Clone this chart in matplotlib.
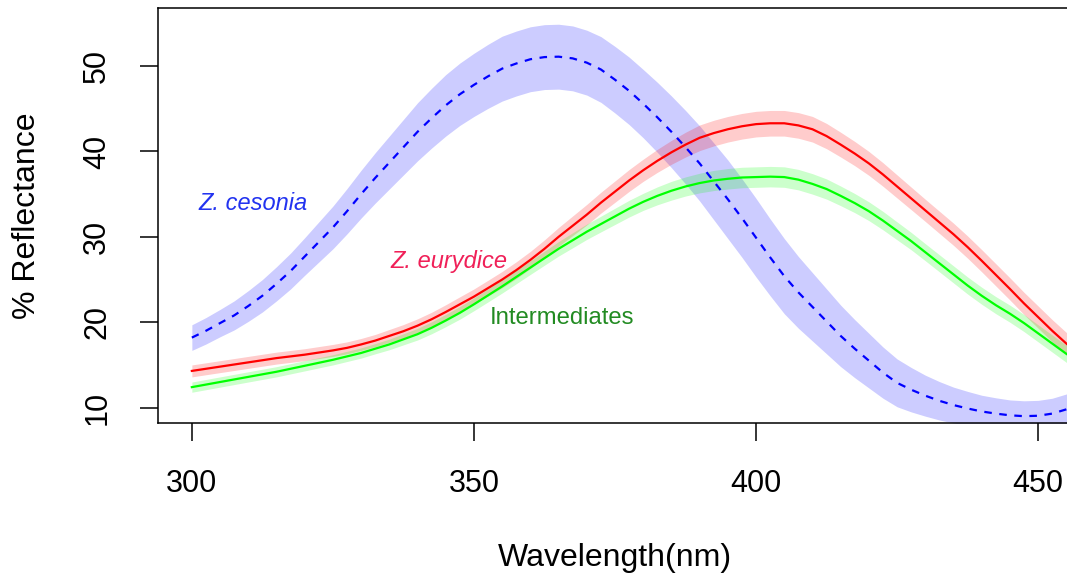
import matplotlib
matplotlib.use("Agg")
import matplotlib.pyplot as plt
import numpy as np

plt.rcParams["font.family"] = ["Liberation Sans", "DejaVu Sans"]

# Wavelength grid (nm), 2.5 nm steps
wavelength = [300, 302.5, 305, 307.5, 310, 312.5, 315, 317.5, 320, 322.5, 325,
              327.5, 330, 332.5, 335, 337.5, 340, 342.5, 345, 347.5, 350,
              352.5, 355, 357.5, 360, 362.5, 365, 367.5, 370, 372.5, 375,
              377.5, 380, 382.5, 385, 387.5, 390, 392.5, 395, 397.5, 400,
              402.5, 405, 407.5, 410, 412.5, 415, 417.5, 420, 422.5, 425,
              427.5, 430, 432.5, 435, 437.5, 440, 442.5, 445, 447.5, 450,
              452.5, 455, 457.5, 460]

# mean % reflectance and half-width of the shaded band
cesonia = [18.2, 19.0, 19.9, 20.8, 21.9, 23.1, 24.5, 26.0, 27.7, 29.4, 31.1,
           33.0, 35.0, 36.9, 38.7, 40.5, 42.3, 43.9, 45.4, 46.7, 47.8,
           48.8, 49.7, 50.3, 50.8, 51.05, 51.1, 50.9, 50.4, 49.6, 48.4,
           47.1, 45.6, 44.0, 42.3, 40.5, 38.6, 36.5, 34.4, 32.2, 29.9,
           27.6, 25.4, 23.5, 21.8, 20.1, 18.4, 16.9, 15.5, 14.1, 12.9,
           12.1, 11.4, 10.8, 10.3, 9.9, 9.55, 9.3, 9.1, 9.0, 9.05,
           9.3, 9.8, 10.4, 11.0]
cesonia_se = [1.5, 1.55, 1.6, 1.7, 1.8, 1.9, 2.0, 2.1, 2.2, 2.35, 2.5,
              2.65, 2.8, 2.95, 3.1, 3.25, 3.4, 3.5, 3.6, 3.65, 3.7,
              3.75, 3.8, 3.8, 3.8, 3.8, 3.8, 3.8, 3.8, 3.85, 3.9,
              3.95, 4.0, 4.1, 4.2, 4.3, 4.4, 4.5, 4.6, 4.6, 4.6,
              4.5, 4.4, 4.2, 4.0, 3.8, 3.6, 3.4, 3.2, 3.0, 2.8,
              2.6, 2.4, 2.25, 2.1, 2.0, 1.9, 1.85, 1.8, 1.8, 1.8,
              1.8, 1.8, 1.85, 1.9]

eurydice = [14.3, 14.55, 14.8, 15.05, 15.3, 15.55, 15.8, 16.0, 16.2, 16.45,
            16.7, 17.0, 17.4, 17.85, 18.4, 18.95, 19.6, 20.35, 21.2, 22.1,
            23.0, 24.0, 25.0, 26.1, 27.3, 28.6, 30.0, 31.3, 32.6, 34.0,
            35.3, 36.6, 37.8, 38.9, 39.9, 40.8, 41.6, 42.15, 42.6, 42.95,
            43.2, 43.3, 43.3, 43.05, 42.6, 41.8, 40.8, 39.75, 38.6, 37.3,
            35.9, 34.5, 33.1, 31.7, 30.3, 28.8, 27.2, 25.55, 23.9, 22.2,
            20.6, 19.0, 17.5, 16.1, 14.8]
eurydice_se = [0.7, 0.7, 0.7, 0.7, 0.7, 0.7, 0.7, 0.7, 0.7, 0.7, 0.7, 0.7,
               0.7, 0.72, 0.75, 0.78, 0.8, 0.82, 0.85, 0.88, 0.9, 0.92, 0.95,
               0.98, 1.0, 1.05, 1.1, 1.15, 1.2, 1.22, 1.25, 1.28, 1.3, 1.35,
               1.4, 1.45, 1.5, 1.5, 1.5, 1.5, 1.5, 1.5, 1.5, 1.5, 1.5, 1.48,
               1.45, 1.42, 1.4, 1.38, 1.35, 1.32, 1.3, 1.3, 1.3, 1.3, 1.3,
               1.3, 1.3, 1.3, 1.3, 1.3, 1.3, 1.3, 1.3]

intermediates = [12.4, 12.7, 13.0, 13.3, 13.6, 13.9, 14.2, 14.55, 14.9, 15.25,
                 15.6, 16.0, 16.4, 16.9, 17.4, 18.0, 18.6, 19.35, 20.2, 21.1,
                 22.1, 23.15, 24.2, 25.3, 26.4, 27.5, 28.6, 29.6, 30.6, 31.5,
                 32.4, 33.3, 34.1, 34.8, 35.4, 35.9, 36.3, 36.6, 36.8, 36.95,
                 37.0, 37.05, 37.0, 36.7, 36.2, 35.6, 34.8, 33.95, 33.0, 31.9,
                 30.7, 29.5, 28.2, 26.9, 25.6, 24.3, 23.1, 22.0, 21.0, 19.9,
                 18.7, 17.5, 16.3, 15.3, 14.3]
intermediates_se = [0.6, 0.6, 0.6, 0.6, 0.6, 0.6, 0.6, 0.6, 0.6, 0.6, 0.6,
                    0.6, 0.6, 0.6, 0.62, 0.65, 0.68, 0.7, 0.72, 0.74, 0.75,
                    0.77, 0.78, 0.79, 0.8, 0.82, 0.85, 0.88, 0.9, 0.92, 0.95,
                    0.98, 1.0, 1.05, 1.1, 1.12, 1.15, 1.18, 1.2, 1.2, 1.2,
                    1.2, 1.2, 1.2, 1.2, 1.18, 1.15, 1.12, 1.1, 1.08, 1.05,
                    1.02, 1.0, 1.0, 1.0, 1.0, 1.0, 1.0, 1.0, 1.0, 1.0,
                    1.0, 1.0, 1.0, 1.0]

wl = np.array(wavelength)
series = [
    (np.array(cesonia), np.array(cesonia_se), "#0000ff", "--"),
    (np.array(eurydice), np.array(eurydice_se), "#ff0000", "-"),
    (np.array(intermediates), np.array(intermediates_se), "#00ff00", "-"),
]

fig = plt.figure(figsize=(10.67, 5.82), dpi=100)
ax = fig.add_axes([158 / 1067, 1 - 423 / 582, (1072 - 158) / 1067, 415 / 582])

# shaded bands first, then the mean lines on top
for mean, se, col, ls in series:
    ax.fill_between(wl, mean - se, mean + se, color=col, alpha=0.2, lw=0)
for mean, se, col, ls in series:
    if ls == "--":
        ax.plot(wl, mean, color=col, lw=1.6, dashes=(3.4, 3.4))
    else:
        ax.plot(wl, mean, color=col, lw=1.6)

ax.text(310.8, 33.15, "Z. cesonia", color="#2233f0", fontsize=17,
        style="italic", ha="center", va="baseline")
ax.text(345.6, 26.4, "Z. eurydice", color="#f02058", fontsize=17,
        style="italic", ha="center", va="baseline")
ax.text(365.6, 19.84, "Intermediates", color="#228b22", fontsize=17.2,
        ha="center", va="baseline")

ax.set_xlim(294, 456)
ax.set_ylim(8.2, 56.8)
ax.set_xticks([300, 350, 400, 450])
ax.set_yticks([10, 20, 30, 40, 50])
ax.tick_params(direction="out", length=13, width=1.1, labelsize=22, pad=20)
for lab in ax.get_yticklabels():
    lab.set_rotation(90)
    lab.set_va("center")
for sp in ax.spines.values():
    sp.set_linewidth(1.1)

ax.set_xlabel("Wavelength(nm)", fontsize=23, labelpad=32)
ax.set_ylabel("% Reflectance", fontsize=23, labelpad=29)

fig.savefig("out.png", dpi=100)
